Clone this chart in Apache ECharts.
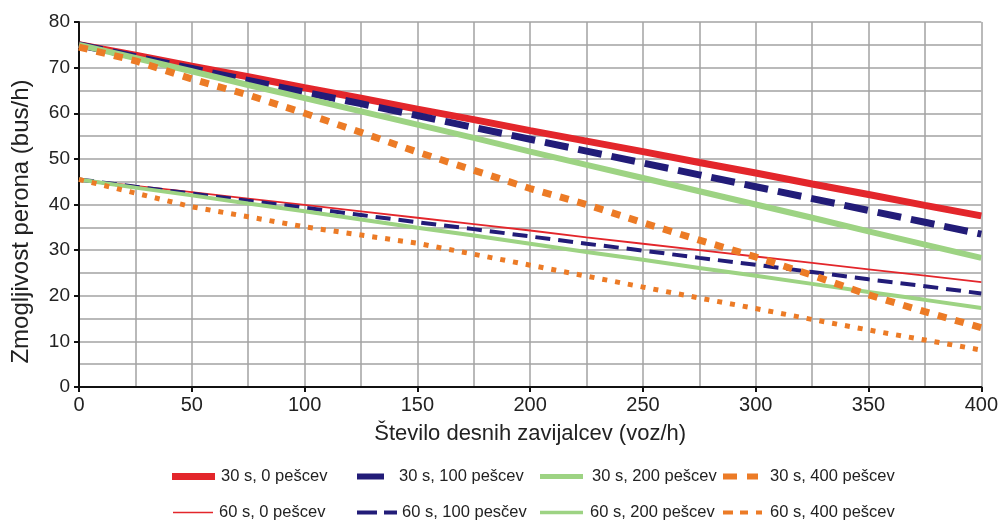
<!DOCTYPE html>
<html>
<head>
<meta charset="utf-8">
<script src="https://cdn.jsdelivr.net/npm/echarts@6/dist/echarts.min.js"></script>
<style>
  html, body { margin: 0; padding: 0; background: #fff; }
  #chart { width: 1001px; height: 520px; }
</style>
</head>
<body>
<div id="chart"></div>
<script>
// x: number of right-turning vehicles (voz/h)
const xValues = [0, 25, 50, 75, 100, 125, 150, 175, 200, 225, 250, 275, 300, 325, 350, 375, 400];

// 30 s groups
const s30p0   = [75, 72.7, 70.3, 68, 65.6, 63.3, 60.9, 58.6, 56.2, 53.9, 51.6, 49.2, 46.9, 44.5, 42.2, 39.8, 37.5];
const s30p100 = [75, 72.4, 69.8, 67.2, 64.6, 62.1, 59.5, 56.9, 54.3, 51.7, 49.1, 46.5, 43.9, 41.3, 38.7, 36.1, 33.5];
const s30p200 = [75, 72.1, 69.2, 66.2, 63.3, 60.4, 57.5, 54.6, 51.6, 48.7, 45.8, 42.9, 40.0, 37.1, 34.1, 31.2, 28.3];
const s30p400 = [74.5, 71.5, 67.5, 64, 60, 55.8, 51.5, 47.5, 43.5, 40, 36, 32.2, 28.5, 24.5, 20.2, 16.5, 13];

// 60 s groups
const s60p0   = [45.5, 44.1, 42.7, 41.3, 39.9, 38.5, 37.1, 35.7, 34.3, 32.8, 31.4, 30.0, 28.6, 27.2, 25.8, 24.4, 23];
const s60p100 = [45.5, 43.9, 42.4, 40.8, 39.3, 37.7, 36.1, 34.6, 33.0, 31.4, 29.9, 28.3, 26.8, 25.2, 23.6, 22.1, 20.5];
const s60p200 = [45.5, 43.7, 42.0, 40.2, 38.5, 36.7, 34.9, 33.2, 31.4, 29.6, 27.9, 26.1, 24.4, 22.6, 20.8, 19.1, 17.3];
const s60p400 = [45.5, 42.5, 39.5, 37.3, 35.1, 33.3, 31.5, 29.1, 26.7, 24.3, 21.9, 19.5, 17.2, 14.8, 12.5, 10.3, 8.1];

const names = [
  '30 s, 0 pešcev', '30 s, 100 pešcev', '30 s, 200 pešcev', '30 s, 400 pešcev',
  '60 s, 0 pešcev', '60 s, 100 pesčev', '60 s, 200 pešcev', '60 s, 400 pešcev'
];

const red = '#e3262b', navy = '#221c78', green = '#9dd383', orange = '#ec7b26';

function pts(arr) { return xValues.map((x, i) => [x, arr[i]]); }

function line(name, arr, color, width, type) {
  return {
    name: name,
    type: 'line',
    data: pts(arr),
    showSymbol: false,
    symbol: 'none',
    color: color,
    lineStyle: { color: color, width: width, type: type, cap: 'butt' },
    animation: false
  };
}

const myChart = echarts.init(document.getElementById('chart'));

// legend swatches drawn as little paths (like the original key)
const legendIcons = [
  'rect',
  'rect',
  'rect',
  'path://M0,0h14v6h-14zM24,0h11v6h-11z',
  'rect',
  'path://M0,0h20v4h-20zM27,0h13v4h-13z',
  'rect',
  'path://M0,0h10v4h-10zM17,0h8v4h-8zM33,0h6v4h-6z'
];
const legendLeft  = [172, 357, 540, 723, 173, 357, 540, 723];
const legendW     = [43, 27, 43, 35, 40, 40, 43, 39];
const legendH     = [7, 6, 5, 6, 1.5, 4, 3.5, 4];
const legendTextX = [221, 399, 592, 770, 219, 400, 590, 770];

const legends = names.map((n, i) => ({
  data: [{ name: n, icon: legendIcons[i] }],
  left: legendLeft[i],
  top: i < 4 ? 468 : 504,
  padding: 0,
  itemWidth: legendW[i],
  itemHeight: legendH[i],
  itemGap: 0,
  itemStyle: { borderWidth: 0 },
  textStyle: {
    fontFamily: 'Liberation Sans', fontSize: 16.5, color: '#222',
    padding: [0, 0, 0, Math.max(0, legendTextX[i] - legendLeft[i] - legendW[i] - 5)]
  },
  selectedMode: false
}));

const option = {
  animation: false,
  backgroundColor: '#fff',
  grid: { left: 79, right: 17, top: 22, bottom: 133 },
  legend: legends,
  xAxis: {
    type: 'value',
    min: 0, max: 400, interval: 50,
    name: 'Število desnih zavijalcev (voz/h)',
    nameLocation: 'middle',
    nameGap: 36,
    nameTextStyle: { fontFamily: 'Liberation Sans', fontSize: 22, color: '#222' },
    axisLine: { show: true, lineStyle: { color: '#111', width: 2 } },
    axisTick: { show: true, length: 5, lineStyle: { color: '#111', width: 2 } },
    axisLabel: { fontFamily: 'Liberation Sans', fontSize: 20, color: '#222', margin: 8 },
    splitLine: { show: true, lineStyle: { color: '#a3a3a3', width: 1.5 } },
    minorTick: { show: false, splitNumber: 2 },
    minorSplitLine: { show: true, lineStyle: { color: '#a3a3a3', width: 1.5 } }
  },
  yAxis: {
    type: 'value',
    min: 0, max: 80, interval: 10,
    name: 'Zmogljivost perona (bus/h)',
    nameLocation: 'middle',
    nameGap: 46,
    nameTextStyle: { fontFamily: 'Liberation Sans', fontSize: 24, color: '#222', padding: [0, 34, 0, 0] },
    axisLine: { show: true, lineStyle: { color: '#111', width: 2 } },
    axisTick: { show: true, length: 5, lineStyle: { color: '#111', width: 2 } },
    axisLabel: { fontFamily: 'Liberation Sans', fontSize: 19, color: '#222', margin: 9 },
    splitLine: { show: true, lineStyle: { color: '#a3a3a3', width: 1.5 } },
    minorTick: { show: false, splitNumber: 2 },
    minorSplitLine: { show: true, lineStyle: { color: '#a3a3a3', width: 1.5 } }
  },
  series: [
    line(names[4], s60p0, red, 1.8, 'solid'),
    line(names[5], s60p100, navy, 4, [15, 8]),
    line(names[6], s60p200, green, 4, 'solid'),
    line(names[7], s60p400, orange, 5, [5, 8]),
    line(names[0], s30p0, red, 7, 'solid'),
    line(names[1], s30p100, navy, 7, [24, 10]),
    line(names[2], s30p200, green, 6, 'solid'),
    line(names[3], s30p400, orange, 7, [9, 9])
  ]
};

myChart.setOption(option);
</script>
</body>
</html>
